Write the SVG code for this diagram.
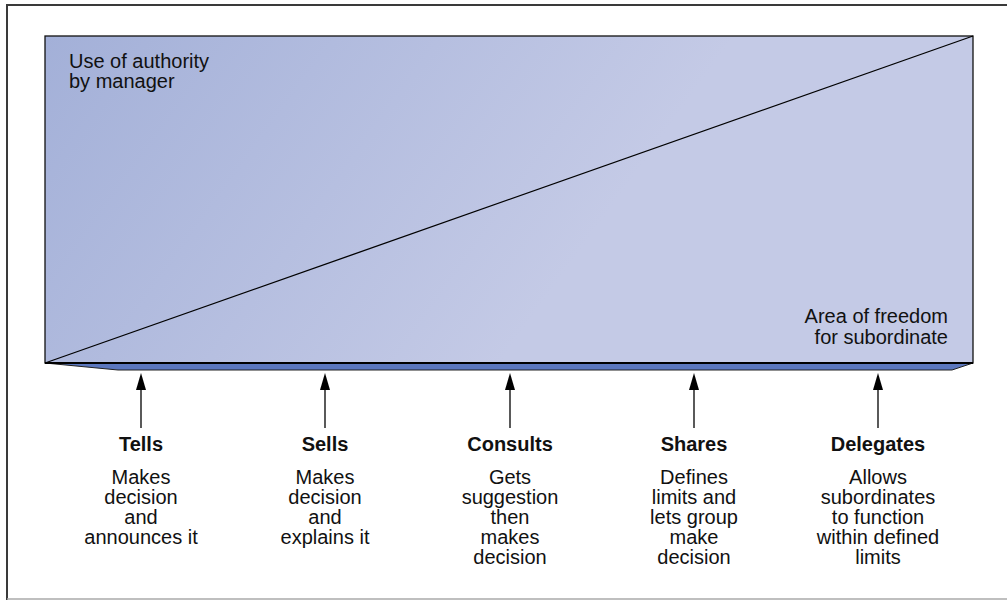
<svg xmlns="http://www.w3.org/2000/svg" width="1007" height="600" viewBox="0 0 1007 600">
<style>
.t{font-family:"Liberation Sans",Arial,sans-serif;fill:#111;}
.h{font-size:20px;font-weight:bold;text-anchor:middle;}
.d{font-size:20px;text-anchor:middle;}
.lbl{font-size:20px;}
.arr{stroke:#000;stroke-width:1.3;fill:none;}
.head{fill:#000;}
</style>
<defs>
<linearGradient id="g" x1="45" y1="36" x2="500" y2="363" gradientUnits="userSpaceOnUse">
<stop offset="0" stop-color="#a3b0d8"/>
<stop offset="1" stop-color="#c4cae6"/>
</linearGradient>
</defs>
<rect width="1007" height="600" fill="#fff"/>
<g id="frame">
<line x1="7" y1="5" x2="1007" y2="5" stroke="#3a3a3a" stroke-width="2"/>
<line x1="7" y1="4" x2="7" y2="600" stroke="#3a3a3a" stroke-width="2"/>
<line x1="7" y1="599" x2="1007" y2="599" stroke="#aaa" stroke-width="1.5"/>
</g>
<g id="chart">
<polygon points="45,363 973,363 952,370 118,370" fill="#5b77be" stroke="#222" stroke-width="1"/>
<rect x="45" y="36" width="928" height="327" fill="url(#g)" stroke="#111" stroke-width="1.3"/>
<line x1="45" y1="363" x2="973" y2="363" stroke="#000" stroke-width="2"/>
<line x1="45" y1="363" x2="973" y2="36" stroke="#000" stroke-width="1.3"/>
<text class="t lbl" x="69"><tspan x="69" y="68">Use of authority</tspan><tspan x="69" y="88">by manager</tspan></text>
<text class="t lbl" text-anchor="end"><tspan x="948" y="323">Area of freedom</tspan><tspan x="948" y="344">for subordinate</tspan></text>
</g>
<g id="connectors">
<line class="arr" x1="141" y1="428" x2="141" y2="385"/><polygon class="head" points="141,373 146,390 136,390"/>
<line class="arr" x1="325" y1="428" x2="325" y2="385"/><polygon class="head" points="325,373 330,390 320,390"/>
<line class="arr" x1="510" y1="428" x2="510" y2="385"/><polygon class="head" points="510,373 515,390 505,390"/>
<line class="arr" x1="694" y1="428" x2="694" y2="385"/><polygon class="head" points="694,373 699,390 689,390"/>
<line class="arr" x1="878" y1="428" x2="878" y2="385"/><polygon class="head" points="878,373 883,390 873,390"/>
</g>
<g id="tells">
<text class="t h" x="141" y="451">Tells</text>
<text class="t d" x="141"><tspan x="141" y="484">Makes</tspan><tspan x="141" y="504">decision</tspan><tspan x="141" y="524">and</tspan><tspan x="141" y="544">announces it</tspan></text>
</g>
<g id="sells">
<text class="t h" x="325" y="451">Sells</text>
<text class="t d" x="325"><tspan x="325" y="484">Makes</tspan><tspan x="325" y="504">decision</tspan><tspan x="325" y="524">and</tspan><tspan x="325" y="544">explains it</tspan></text>
</g>
<g id="consults">
<text class="t h" x="510" y="451">Consults</text>
<text class="t d" x="510"><tspan x="510" y="484">Gets</tspan><tspan x="510" y="504">suggestion</tspan><tspan x="510" y="524">then</tspan><tspan x="510" y="544">makes</tspan><tspan x="510" y="564">decision</tspan></text>
</g>
<g id="shares">
<text class="t h" x="694" y="451">Shares</text>
<text class="t d" x="694"><tspan x="694" y="484">Defines</tspan><tspan x="694" y="504">limits and</tspan><tspan x="694" y="524">lets group</tspan><tspan x="694" y="544">make</tspan><tspan x="694" y="564">decision</tspan></text>
</g>
<g id="delegates">
<text class="t h" x="878" y="451">Delegates</text>
<text class="t d" x="878"><tspan x="878" y="484">Allows</tspan><tspan x="878" y="504">subordinates</tspan><tspan x="878" y="524">to function</tspan><tspan x="878" y="544">within defined</tspan><tspan x="878" y="564">limits</tspan></text>
</g>
</svg>
